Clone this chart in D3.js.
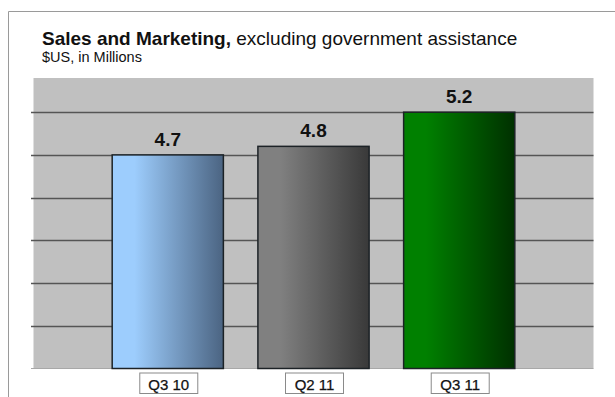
<!DOCTYPE html>
<html>
<head>
<meta charset="utf-8">
<script src="https://cdn.jsdelivr.net/npm/d3@7"></script>
<style>
  html, body { margin: 0; padding: 0; background: #fff; }
  svg { display: block; font-family: "Liberation Sans", Arial, sans-serif; }
</style>
</head>
<body>
<svg id="chart" width="615" height="397"></svg>
<script>
// Quarterly sales & marketing spend ($US millions)
const categories = ["Q3 10", "Q2 11", "Q3 11"];
const values = [4.7, 4.8, 5.2];
const valueLabels = ["4.7", "4.8", "5.2"];
const yDomain = [2.2, 5.6];
const yTicks = [2.2, 2.7, 3.2, 3.7, 4.2, 4.7, 5.2];
const barColors = [
  ["#9dcdfd", "#4b6482"],
  ["#808080", "#393939"],
  ["#008000", "#003000"]
];

const svg = d3.select("#chart");
const plot = { left: 33.5, right: 593.5, top: 78, bottom: 368.5 };

const x = d3.scaleBand()
  .domain(categories)
  .range([plot.left, plot.right])
  .paddingInner(0.237)
  .paddingOuter(0.54);

const y = d3.scaleLinear()
  .domain(yDomain)
  .range([plot.bottom, plot.top]);

// outer frame (top and left edges)
svg.append("path")
  .attr("d", `M8.5,397 V11.5 H615`)
  .attr("fill", "none")
  .attr("stroke", "#9a9a9a")
  .attr("stroke-width", 1);

// title
const title = svg.append("text")
  .attr("x", 42)
  .attr("y", 45)
  .attr("font-size", 19)
  .attr("fill", "#111");
title.append("tspan").attr("font-weight", "bold").text("Sales and Marketing,");
title.append("tspan").text(" excluding government assistance");

svg.append("text")
  .attr("x", 42)
  .attr("y", 62)
  .attr("font-size", 14.5)
  .attr("fill", "#111")
  .text("$US, in Millions");

// plot background
svg.append("rect")
  .attr("x", plot.left)
  .attr("y", plot.top)
  .attr("width", plot.right - plot.left)
  .attr("height", plot.bottom - plot.top)
  .attr("fill", "#c0c0c0");

// horizontal gridlines
svg.append("g")
  .selectAll("line")
  .data(yTicks.filter(t => t > yDomain[0]))
  .join("line")
  .attr("x1", plot.left - 2.5)
  .attr("x2", plot.right)
  .attr("y1", d => Math.round(y(d)) + 0.5)
  .attr("y2", d => Math.round(y(d)) + 0.5)
  .attr("stroke", "#555")
  .attr("stroke-width", 1.4);

// baseline
svg.append("line")
  .attr("x1", plot.left - 2.5)
  .attr("x2", plot.right)
  .attr("y1", y(yDomain[0]))
  .attr("y2", y(yDomain[0]))
  .attr("stroke", "#a8a8a8")
  .attr("stroke-width", 1);

// bar gradients
const defs = svg.append("defs");
barColors.forEach((c, i) => {
  const g = defs.append("linearGradient")
    .attr("id", "barGrad" + i)
    .attr("x1", "0%").attr("x2", "100%")
    .attr("y1", "0%").attr("y2", "0%");
  g.append("stop").attr("offset", "0%").attr("stop-color", c[0]);
  g.append("stop").attr("offset", "20%").attr("stop-color", c[0]);
  g.append("stop").attr("offset", "100%").attr("stop-color", c[1]);
});

const data = categories.map((c, i) => ({ cat: c, value: values[i], label: valueLabels[i], i }));

// bars
svg.append("g")
  .selectAll("rect")
  .data(data)
  .join("rect")
  .attr("x", d => x(d.cat))
  .attr("y", d => y(d.value))
  .attr("width", x.bandwidth())
  .attr("height", d => y(yDomain[0]) - y(d.value))
  .attr("fill", d => `url(#barGrad${d.i})`)
  .attr("stroke", "#1c2226")
  .attr("stroke-width", 1.5);

// value labels
svg.append("g")
  .selectAll("text")
  .data(data)
  .join("text")
  .attr("x", d => x(d.cat) + x.bandwidth() / 2)
  .attr("y", d => y(d.value) - 9)
  .attr("text-anchor", "middle")
  .attr("font-size", 19)
  .attr("font-weight", "bold")
  .attr("fill", "#111")
  .text(d => d.label);

// category labels in boxes
const catG = svg.append("g")
  .selectAll("g")
  .data(data)
  .join("g")
  .attr("transform", d => `translate(${x(d.cat) + x.bandwidth() / 2 + 1},0)`);

catG.append("rect")
  .attr("x", -29)
  .attr("y", 373)
  .attr("width", 58)
  .attr("height", 20.5)
  .attr("fill", "#fff")
  .attr("stroke", "#8a8a8a")
  .attr("stroke-width", 1);

catG.append("text")
  .attr("x", 0)
  .attr("y", 389.5)
  .attr("text-anchor", "middle")
  .attr("font-size", 15)
  .attr("fill", "#111")
  .attr("stroke", "#111")
  .attr("stroke-width", 0.25)
  .text(d => d.cat);
</script>
</body>
</html>
